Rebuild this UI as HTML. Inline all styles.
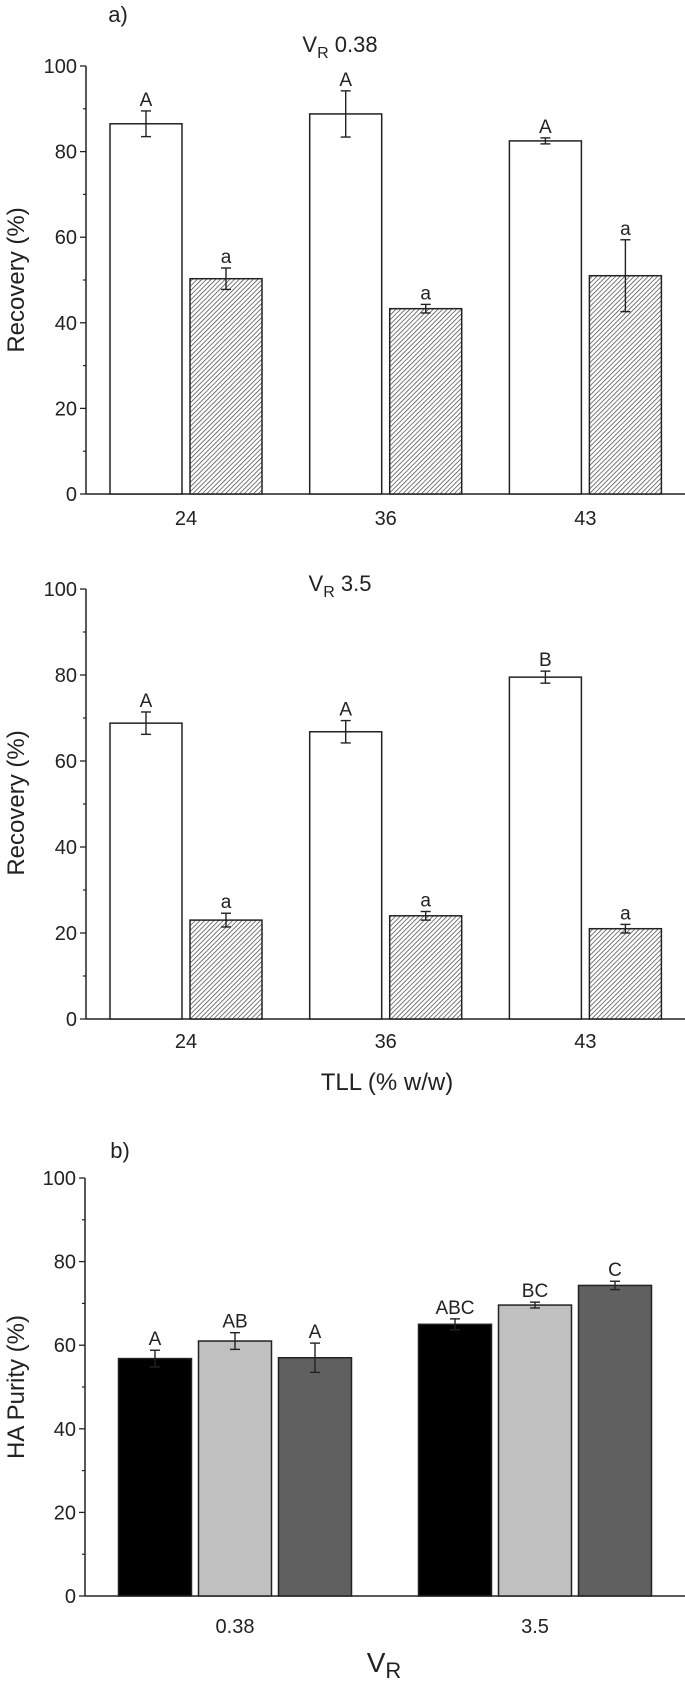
<!DOCTYPE html>
<html><head><meta charset="utf-8"><style>
body{margin:0;background:#fff;}
svg{display:block;font-family:"Liberation Sans",Arial,sans-serif;}
</style></head><body>
<svg id="fig" width="685" height="1682" viewBox="0 0 685 1682" xmlns="http://www.w3.org/2000/svg">
<defs>
<pattern id="hatch" patternUnits="userSpaceOnUse" width="3.3" height="3.3" patternTransform="rotate(45)">
<rect width="3.3" height="3.3" fill="#fff"/>
<line x1="0" y1="0" x2="0" y2="3.3" stroke="#333" stroke-width="1.3"/>
</pattern>
</defs>
</svg>
<script>
// Panel a (top) V_R 0.38
const tllCats = ["24","36","43"];
const topWhite = [86.5, 88.8, 82.5];
const topWhiteErr = [3.0, 5.4, 0.7];
const topHatch = [50.3, 43.3, 51.0];
const topHatchErr = [2.5, 1.0, 8.4];
const topWhiteLbl = ["A","A","A"];
const topHatchLbl = ["a","a","a"];
// Panel a (middle) V_R 3.5
const midWhite = [68.8, 66.8, 79.5];
const midWhiteErr = [2.6, 2.6, 1.4];
const midHatch = [23.0, 24.0, 21.0];
const midHatchErr = [1.6, 1.0, 1.0];
const midWhiteLbl = ["A","A","B"];
const midHatchLbl = ["a","a","a"];
// Panel b
const vrCats = ["0.38","3.5"];
const purA = [56.8, 65.0];
const purAErr = [2.0, 1.3];
const purB = [61.0, 69.6];
const purBErr = [2.0, 0.7];
const purC = [57.0, 74.3];
const purCErr = [3.5, 1.0];
const purLblA = ["A","ABC"];
const purLblB = ["AB","BC"];
const purLblC = ["A","C"];
const yTicks = [0,20,40,60,80,100];
const yMinor = [10,30,50,70,90];

const svg = document.getElementById('fig');
const NS = 'http://www.w3.org/2000/svg';
function mk(tag, attrs, parent){
  const e = document.createElementNS(NS, tag);
  for (const k in attrs) e.setAttribute(k, attrs[k]);
  (parent||svg).appendChild(e);
  return e;
}
function txt(x,y,s,size,anchor,parent){
  const t = mk('text',{x:x,y:y,'font-size':size,'text-anchor':anchor||'middle',fill:'#222'},parent);
  t.textContent = s;
  return t;
}

function axes(g, y0, y100, xLeft, xRight, ytitle, ytitleY){
  const ys = v => y0 - (y0 - y100) * v / 100;
  const ax = mk('line',{x1:xLeft,y1:y100,x2:xLeft,y2:y0,stroke:'#222','stroke-width':1.5},g);
  
  
  const bx = mk('line',{x1:xLeft,y1:y0,x2:xRight,y2:y0,stroke:'#222','stroke-width':1.5},g);
  
  
  yTicks.forEach(v=>{
    mk('line',{x1:xLeft-6,y1:ys(v),x2:xLeft,y2:ys(v),stroke:'#222','stroke-width':1.3},g);
    const t = txt(xLeft-9, ys(v)+7, String(v), 20, 'end', g);
    
    
  });
  yMinor.forEach(v=>{
    mk('line',{x1:xLeft-3,y1:ys(v),x2:xLeft,y2:ys(v),stroke:'#222','stroke-width':1.2},g);
  });
  const yt = mk('text',{x:0,y:0,'font-size':24,'text-anchor':'middle',fill:'#222',transform:'translate(24,'+ytitleY+') rotate(-90)'},g);
  yt.textContent = ytitle;
  
  
  return ys;
}

function errbar(g, cx, ys, v, e){
  mk('line',{x1:cx,y1:ys(v+e),x2:cx,y2:ys(v-e),stroke:'#222','stroke-width':1.4},g);
  mk('line',{x1:cx-5,y1:ys(v+e),x2:cx+5,y2:ys(v+e),stroke:'#222','stroke-width':1.4},g);
  mk('line',{x1:cx-5,y1:ys(v-e),x2:cx+5,y2:ys(v-e),stroke:'#222','stroke-width':1.4},g);
}

function recoveryPanel(name, y0, y100, white, wErr, hatch, hErr, wLbl, hLbl, titleY, titleSub, ytitleY, labelY){
  const g = mk('g',{});
  
  
  const ys = axes(g, y0, y100, 86, 685, 'Recovery (%)', ytitleY);
  const xs = i => 186 + 199.7 * i;
  const bw = 72, gap = 4;
  tllCats.forEach((c,i)=>{
    const cx = xs(i);
    const r1 = mk('rect',{x:cx-gap-bw,y:ys(white[i]),width:bw,height:y0-ys(white[i]),fill:'#fff',stroke:'#222','stroke-width':1.5},g);
    
    
    const r2 = mk('rect',{x:cx+gap,y:ys(hatch[i]),width:bw,height:y0-ys(hatch[i]),fill:'url(#hatch)',stroke:'#222','stroke-width':1.5},g);
    
    
    errbar(g, cx-gap-bw/2, ys, white[i], wErr[i]);
    errbar(g, cx+gap+bw/2, ys, hatch[i], hErr[i]);
    const l1 = txt(cx-gap-bw/2, ys(white[i]+wErr[i])-5, wLbl[i], 19, 'middle', g);
    
    
    const l2 = txt(cx+gap+bw/2, ys(hatch[i]+hErr[i])-5, hLbl[i], 19, 'middle', g);
    
    
    const xl = txt(cx, labelY, c, 20, 'middle', g);
    
    
  });
  const t = mk('text',{x:340,y:titleY,'font-size':22,'text-anchor':'middle',fill:'#222'},g);
  
  
  const s1 = mk('tspan',{},t); s1.textContent='V';
  const s2 = mk('tspan',{dy:6,'font-size':16},t); s2.textContent='R';
  const s3 = mk('tspan',{dy:-6},t); s3.textContent=' '+titleSub;
}

const pa = txt(118, 22, 'a)', 22, 'middle');



recoveryPanel('recovery-chart-vr-0-38', 494, 66, topWhite, topWhiteErr, topHatch, topHatchErr, topWhiteLbl, topHatchLbl, 52, '0.38', 280, 525);
recoveryPanel('recovery-chart-vr-3-5', 1019, 589, midWhite, midWhiteErr, midHatch, midHatchErr, midWhiteLbl, midHatchLbl, 591, '3.5', 803, 1048);

const tll = txt(387, 1090, 'TLL (% w/w)', 24, 'middle');



// Panel b
const pb = txt(120, 1158, 'b)', 22, 'middle');


(function(){
  const g = mk('g',{});
  
  
  const y0 = 1596, y100 = 1178;
  const ys = axes(g, y0, y100, 85, 685, 'HA Purity (%)', 1387);
  const xs = i => 235 + 300 * i;
  const bw = 73, stride = 80;
  const series = [[purA,purAErr,purLblA,'#000000'],[purB,purBErr,purLblB,'#c0c0c0'],[purC,purCErr,purLblC,'#606060']];
  vrCats.forEach((c,i)=>{
    series.forEach((s,j)=>{
      const cx = xs(i) + (j-1)*stride;
      const v = s[0][i], e = s[1][i];
      const r = mk('rect',{x:cx-bw/2,y:ys(v),width:bw,height:y0-ys(v),fill:s[3],stroke:'#222','stroke-width':1.5},g);
      
      
      errbar(g, cx, ys, v, e);
      const l = txt(cx, ys(v+e)-5, s[2][i], 19, 'middle', g);
      
      
    });
    const xl = txt(xs(i), 1633, c, 20, 'middle', g);
    
    
  });
  const t = mk('text',{x:384,y:1672,'font-size':28,'text-anchor':'middle',fill:'#222'},g);
  
  
  const a = mk('tspan',{},t); a.textContent='V';
  const b = mk('tspan',{dy:6,'font-size':22},t); b.textContent='R';
})();
</script>
</body></html>
